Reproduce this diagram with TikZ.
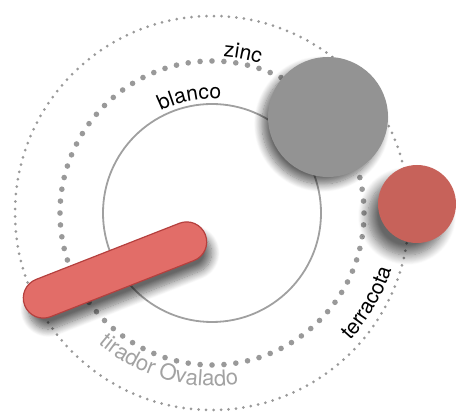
\documentclass[tikz,border=0pt]{standalone}
\usepackage{fontspec}
\setmainfont{TeX Gyre Heros}
\usetikzlibrary{decorations.text,shadows.blur}

\definecolor{zincgray}{HTML}{939393}
\definecolor{terracolor}{HTML}{C7625A}
\definecolor{pillred}{HTML}{E26D68}
\definecolor{pilledge}{HTML}{B5403E}
\definecolor{dotgray}{HTML}{999999}
\definecolor{ringgray}{HTML}{A0A0A0}
\definecolor{labelgray}{HTML}{A2A2A2}

\newcommand{\ringfont}{\fontsize{21}{25}\selectfont}
\newcommand{\wideringfont}{\fontsize{22}{26}\selectfont}

\begin{document}
\begin{tikzpicture}[
            x=1pt, y=1pt,
            bigdots/.style={draw=dotgray, line width=5.6pt, line cap=round, dash pattern=on 0pt off 11.94pt},
            smalldots/.style={draw=dotgray, line width=3pt, line cap=round, dash pattern=on 0pt off 7.5pt},
            ringtext/.style={decorate, decoration={text along path, text align=center, text={#1}}},
            softshadow/.style n args={3}{blur shadow={shadow xshift=#1, shadow yshift=#2, shadow blur radius=#3, shadow blur steps=12, shadow opacity=60}}
        ]

            % 1. Frame and centre of the rings
            \useasboundingbox (0,0) rectangle (458,414);
            \coordinate (c) at (212,201);

            % 2. The three rings
            \draw[smalldots] (c) circle[radius=197];
            \draw[bigdots] (c) circle[radius=152];
            \draw[ringgray, line width=1.8pt] (c) circle[radius=109];

            % 3. Labels following the rings
            \path[ringtext={|\ringfont|zinc}] (c) ++(92:157) arc[start angle=92, end angle=66, radius=157];
            \path[ringtext={|\ringfont|blanco}] (c) ++(122:114) arc[start angle=122, end angle=80, radius=114];
            \path[ringtext={|\ringfont|terracota}] (c) ++(-46:188) arc[start angle=-46, end angle=-14, radius=188];
            \path[ringtext={|\wideringfont\color{labelgray}|tirador Ovalado}] (c) ++(222:173) arc[start angle=222, end angle=286, radius=173];

            % 4. Colour samples
            \node[circle, fill=zincgray, minimum size=120pt, inner sep=0pt, softshadow={-6pt}{-7pt}{8pt}] (zinc) at (328,297) {};
            \node[circle, fill=terracolor, minimum size=78pt, inner sep=0pt, softshadow={-10pt}{-12pt}{10pt}] (terracota) at (417,210) {};
            \node[rectangle, rounded corners=20pt, minimum width=194pt, minimum height=40pt, inner sep=0pt,
                  fill=pillred, draw=pilledge, line width=1.2pt, rotate=21.4, softshadow={5pt}{-11pt}{8pt}] (tirador) at (115,144) {};

        \end{tikzpicture}
\end{document}
